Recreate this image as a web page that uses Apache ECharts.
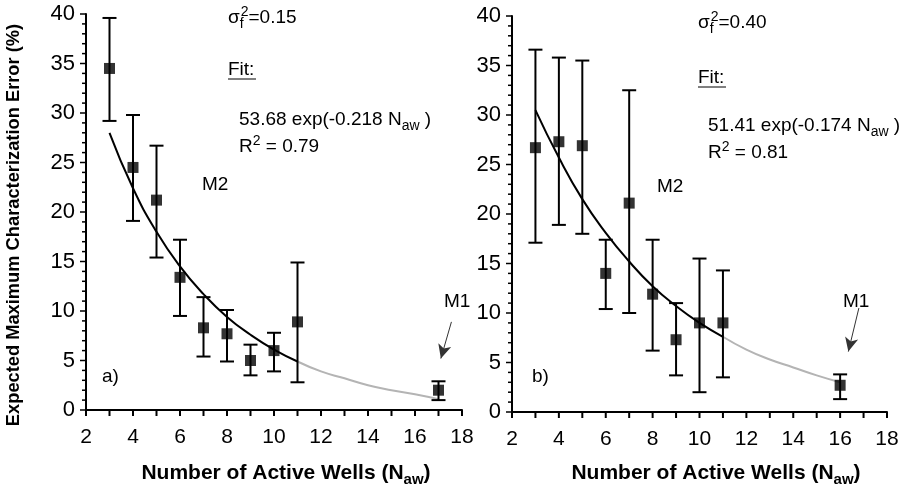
<!DOCTYPE html>
<html>
<head>
<meta charset="utf-8">
<script src="https://cdn.jsdelivr.net/npm/echarts@6/dist/echarts.min.js"></script>
<style>
  html, body { margin: 0; padding: 0; background: #fff; }
  #chart { width: 905px; height: 490px; }
</style>
</head>
<body>
<div id="chart"></div>
<script>
// panel a) sigma_f^2 = 0.15
var wellsA = [3, 4, 5, 6, 7, 8, 9, 10, 11, 17];
var meanA  = [34.5, 24.5, 21.2, 13.4, 8.3, 7.7, 5.0, 6.0, 8.9, 2.0];
var lowA   = [29.2, 19.1, 15.4, 9.5, 5.4, 4.9, 3.5, 3.9, 2.8, 1.0];
var highA  = [39.6, 29.8, 26.7, 17.2, 11.4, 10.1, 6.6, 7.8, 14.9, 2.9];
var fitXA      = [3, 4, 5, 6, 7, 8, 9, 10, 11];
var fitYA      = [28.0, 22.4, 18.0, 14.5, 11.7, 9.4, 7.6, 6.1, 4.9];
var fitExtXA   = [11, 12, 13, 14, 15, 16, 17];
var fitExtYA   = [4.9, 3.9, 3.2, 2.5, 2.0, 1.6, 1.1];

// panel b) sigma_f^2 = 0.40
var wellsB = [3, 4, 5, 6, 7, 8, 9, 10, 11, 16];
var meanB  = [26.7, 27.3, 26.9, 14.0, 21.1, 11.9, 7.3, 9.0, 9.0, 2.7];
var lowB   = [17.1, 18.9, 18.0, 10.4, 10.0, 6.2, 3.7, 2.0, 3.5, 1.3];
var highB  = [36.6, 35.8, 35.5, 17.4, 32.5, 17.4, 11.0, 15.5, 14.3, 3.8];
var fitXB      = [3, 4, 5, 6, 7, 8, 9, 10, 11];
var fitYB      = [30.5, 25.7, 21.5, 18.1, 15.2, 12.7, 10.7, 9.0, 7.6];
var fitExtXB   = [11, 12, 13, 14, 15, 16];
var fitExtYB   = [7.6, 6.3, 5.3, 4.5, 3.7, 3.0];

// tick marks (every unit on both axes)
var tickX = [2, 3, 4, 5, 6, 7, 8, 9, 10, 11, 12, 13, 14, 15, 16, 17, 18];
var tickY = [0, 1, 2, 3, 4, 5, 6, 7, 8, 9, 10, 11, 12, 13, 14, 15, 16, 17, 18, 19, 20,
             21, 22, 23, 24, 25, 26, 27, 28, 29, 30, 31, 32, 33, 34, 35, 36, 37, 38, 39, 40];

var FONT = '"Liberation Sans", Arial, sans-serif';

function pairs(xs, ys) {
  return xs.map(function (x, i) { return [x, ys[i]]; });
}
function triples(xs, lo, hi) {
  return xs.map(function (x, i) { return [x, lo[i], hi[i]]; });
}

// error bar with caps
function errorItem(params, api) {
  var x = api.value(0);
  var lo = api.coord([x, api.value(1)]);
  var hi = api.coord([x, api.value(2)]);
  var w = 7;
  var st = { stroke: '#000', lineWidth: 2 };
  return {
    type: 'group',
    children: [
      { type: 'line', shape: { x1: lo[0], y1: lo[1], x2: hi[0], y2: hi[1] }, style: st },
      { type: 'line', shape: { x1: lo[0] - w, y1: lo[1], x2: lo[0] + w, y2: lo[1] }, style: st },
      { type: 'line', shape: { x1: hi[0] - w, y1: hi[1], x2: hi[0] + w, y2: hi[1] }, style: st }
    ]
  };
}

// outward ticks drawn through the axis scales
function xTickItem(params, api) {
  var p = api.coord([api.value(0), api.value(1)]);
  return { type: 'line', shape: { x1: p[0], y1: p[1], x2: p[0], y2: p[1] + 6 },
           style: { stroke: '#000', lineWidth: 2 } };
}
function yTickItem(params, api) {
  var v = api.value(1);
  var p = api.coord([api.value(0), v]);
  var len = v % 5 === 0 ? 6 : 4;
  return { type: 'line', shape: { x1: p[0] - len, y1: p[1], x2: p[0], y2: p[1] },
           style: { stroke: '#000', lineWidth: 1.5 } };
}

function xAxisFor(idx) {
  return {
    gridIndex: idx, type: 'value', min: 2, max: 18, interval: 2,
    axisLine: { show: true, onZero: false, lineStyle: { color: '#000', width: 2 } },
    axisTick: { show: false },
    axisLabel: { color: '#000', fontSize: 21, fontFamily: FONT, margin: 17 },
    splitLine: { show: false }
  };
}
function yAxisFor(idx) {
  return {
    gridIndex: idx, type: 'value', min: 0, max: 40, interval: 5,
    axisLine: { show: true, onZero: false, lineStyle: { color: '#000', width: 2 } },
    axisTick: { show: false },
    axisLabel: { color: '#000', fontSize: 22, fontFamily: FONT, margin: 11 },
    splitLine: { show: false }
  };
}

function seriesFor(idx, wells, mean, lo, hi, fx, fy, ex, ey, arrow) {
  return [
    {
      type: 'custom', xAxisIndex: idx, yAxisIndex: idx, clip: false, silent: true,
      data: tickX.map(function (v) { return [v, 0]; }), renderItem: xTickItem, z: 6
    },
    {
      type: 'custom', xAxisIndex: idx, yAxisIndex: idx, clip: false, silent: true,
      data: tickY.map(function (v) { return [2, v]; }), renderItem: yTickItem, z: 6
    },
    {
      type: 'line', xAxisIndex: idx, yAxisIndex: idx, data: pairs(ex, ey),
      smooth: true, symbol: 'none', lineStyle: { color: '#b4b4b4', width: 2 }, z: 2,
      markLine: {
        silent: true, symbol: ['none', 'arrow'], symbolSize: [10, 14],
        label: { show: false },
        lineStyle: { color: '#333', width: 1, type: 'solid' },
        data: [[{ coord: arrow[0] }, { coord: arrow[1] }]]
      }
    },
    {
      type: 'line', xAxisIndex: idx, yAxisIndex: idx, data: pairs(fx, fy),
      smooth: true, symbol: 'none', lineStyle: { color: '#000', width: 2 }, z: 3
    },
    {
      type: 'custom', xAxisIndex: idx, yAxisIndex: idx, data: triples(wells, lo, hi),
      renderItem: errorItem, encode: { x: 0, y: [1, 2] }, z: 4
    },
    {
      type: 'scatter', xAxisIndex: idx, yAxisIndex: idx, data: pairs(wells, mean),
      symbol: 'rect', symbolSize: 11, itemStyle: { color: '#000' }, z: 5
    }
  ];
}

var rich = {
  sub: { fontSize: 14, lineHeight: 14, verticalAlign: 'bottom', fontFamily: FONT, fill: '#000' },
  subw: { fontSize: 14, lineHeight: 14, verticalAlign: 'bottom', fontFamily: FONT, fill: '#000', width: 1 },
  sup: { fontSize: 14, lineHeight: 14, verticalAlign: 'top', fontFamily: FONT, fill: '#000' }
};
function note(x, y, text, size) {
  return {
    type: 'text', x: x, y: y, silent: true,
    style: {
      text: text, fill: '#000', font: size + 'px ' + FONT,
      lineHeight: 26, verticalAlign: 'middle', rich: rich
    }
  };
}
function axisTitle(x, y) {
  return {
    type: 'text', x: x, y: y, silent: true,
    style: {
      text: 'Number of Active Wells (N{sub|aw})', fill: '#000', font: 'bold 21px ' + FONT,
      align: 'center', verticalAlign: 'middle', lineHeight: 28,
      rich: { sub: { fontSize: 15, lineHeight: 15, fontWeight: 'bold', verticalAlign: 'bottom', fontFamily: FONT, fill: '#000' } }
    }
  };
}

var chart = echarts.init(document.getElementById('chart'));
chart.setOption({
  backgroundColor: '#fff',
  animation: false,
  grid: [
    { left: 86, width: 376, top: 14, height: 396 },
    { left: 512, width: 375, top: 16, height: 396 }
  ],
  xAxis: [xAxisFor(0), xAxisFor(1)],
  yAxis: [yAxisFor(0), yAxisFor(1)],
  series: seriesFor(0, wellsA, meanA, lowA, highA, fitXA, fitYA, fitExtXA, fitExtYA,
                    [[17.55, 8.9], [17.1, 5.2]])
    .concat(seriesFor(1, wellsB, meanB, lowB, highB, fitXB, fitYB, fitExtXB, fitExtYB,
                      [[16.8, 10.5], [16.35, 6.1]])),
  graphic: [
    // panel a
    note(228, 18, 'σ{subw|f}{sup|2}=0.15', 19),
    note(228, 70, 'Fit:', 19),
    { type: 'line', silent: true, shape: { x1: 228, y1: 79, x2: 256, y2: 79 }, style: { stroke: '#000', lineWidth: 1 } },
    note(239, 120, '53.68 exp(-0.218 N{sub|aw} )', 19),
    note(239, 147, 'R{sup|2} = 0.79', 19),
    note(202, 185, 'M2', 19),
    note(102, 377, 'a)', 19),
    note(444, 302, 'M1', 19),
    // panel b
    note(698, 23, 'σ{subw|f}{sup|2}=0.40', 19),
    note(698, 78, 'Fit:', 19),
    { type: 'line', silent: true, shape: { x1: 698, y1: 87, x2: 726, y2: 87 }, style: { stroke: '#000', lineWidth: 1 } },
    note(708, 126, '51.41 exp(-0.174 N{sub|aw} )', 19),
    note(708, 153, 'R{sup|2} = 0.81', 19),
    note(657, 187, 'M2', 19),
    note(532, 377, 'b)', 19),
    note(843, 302, 'M1', 19),
    // axis titles
    {
      type: 'text', x: 14, y: 225, rotation: Math.PI / 2, silent: true,
      style: { text: 'Expected Maximum Characterization Error (%)', fill: '#000',
               font: 'bold 18.3px ' + FONT, align: 'center', verticalAlign: 'middle' }
    },
    axisTitle(286, 473),
    axisTitle(716, 473)
  ]
});
</script>
</body>
</html>
